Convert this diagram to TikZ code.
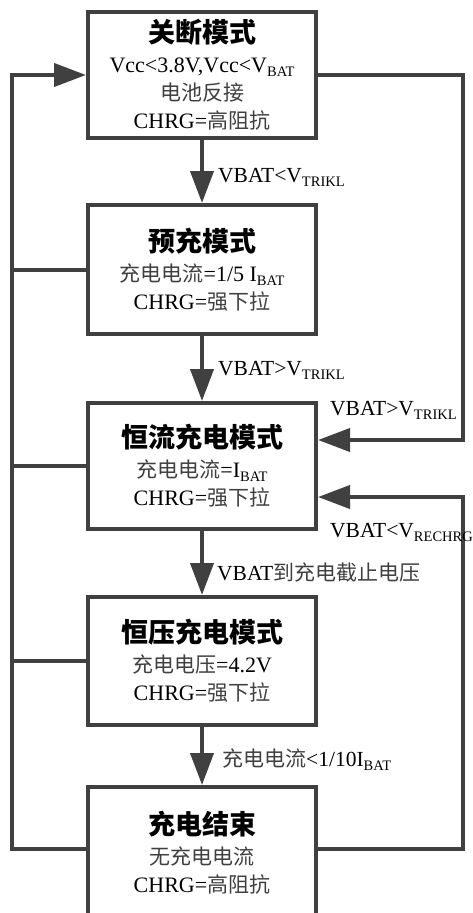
\documentclass[tikz,border=0pt]{standalone}
\usepackage{fontspec}
\setmainfont{Liberation Serif}
\newfontfamily\cjk{Noto Sans CJK SC}
\usetikzlibrary{arrows.meta}
\definecolor{ln}{HTML}{404040}
\definecolor{zhc}{HTML}{404040}
\newcommand\zh[1]{{\cjk\fontsize{21}{28}\selectfont\color{zhc}#1}}
\newcommand\sbt[1]{\raisebox{-4pt}{\fontsize{14.5}{14}\selectfont #1}}
\newcommand\ttl[1]{{\cjk\bfseries\fontsize{27}{32}\selectfont #1}}
\tikzset{
  box/.style={draw=ln, line width=4pt, minimum width=228pt, align=center, inner sep=0pt,
    font=\fontsize{22}{28}\selectfont},
  conn/.style={draw=ln, line width=4pt},
  arr/.style={conn, -{Triangle[length=32pt,width=23pt]}},
  lbl/.style={inner sep=0pt, font=\fontsize{21.5}{24}\selectfont, anchor=base west}
}
\begin{document}
\begin{tikzpicture}[x=1pt,y=-1pt]
\clip (0,0) rectangle (473,913);
\fill[white] (0,0) rectangle (473,913);
\coordinate (lx) at (12,460);
\coordinate (rx) at (463,460);
\node[box, minimum height=126pt] (b1) at (202,75)
  {\ttl{关断模式}\\[2pt] Vcc<3.8V,Vcc<V\sbt{BAT}\\ \zh{电池反接}\\ CHRG=\zh{高阻抗}};
\node[box, minimum height=129pt] (b2) at (202,269.5)
  {\ttl{预充模式}\\[2pt] \zh{充电电流}=1/5 I\sbt{BAT}\\ CHRG=\zh{强下拉}};
\node[box, minimum height=126pt] (b3) at (202,466)
  {\ttl{恒流充电模式}\\[2pt] \zh{充电电流}=I\sbt{BAT}\\ CHRG=\zh{强下拉}};
\node[box, minimum height=128pt] (b4) at (202,661)
  {\ttl{恒压充电模式}\\[2pt] \zh{充电电压}=4.2V\\ CHRG=\zh{强下拉}};
\node[box, minimum height=132pt] (b5) at (202,853)
  {\ttl{充电结束}\\[2pt] \zh{无充电电流}\\ CHRG=\zh{高阻抗}};
\coordinate (t3) at ([yshift=26pt]b3.east);
\coordinate (u3) at ([yshift=-31pt]b3.east);
% vertical flow
\draw[arr] (b1.south) -- (b2.north);
\draw[arr] (b2.south) -- (b3.north);
\draw[arr] (b3.south) -- (b4.north);
\draw[arr] (b4.south) -- (b5.north);
% left loop
\draw[arr] ([yshift=4pt]b5.west) -| (lx) |- (b1.west);
\draw[conn] (b2.west) -- (b2.west -| lx);
\draw[conn] (b3.west) -- (b3.west -| lx);
\draw[conn] (b4.west) -- (b4.west -| lx);
% right loops
\draw[arr] (b1.east) -| (rx |- t3) -- (t3);
\draw[arr] ([yshift=4pt]b5.east) -| (rx |- u3) -- (u3);
% labels
\node[lbl] (l1) at (218,182) {VBAT<V\sbt{TRIKL}};
\node[lbl] (l2) at (218,375) {VBAT>V\sbt{TRIKL}};
\node[lbl] (l3) at (330,415) {VBAT>V\sbt{TRIKL}};
\node[lbl] (l4) at (330,537) {VBAT<V\sbt{RECHRG}};
\node[lbl] (l5) at (217,580) {VBAT\zh{到充电截止电压}};
\node[lbl] (l6) at (222,766) {\zh{充电电流}<1/10I\sbt{BAT}};
\end{tikzpicture}
\end{document}
